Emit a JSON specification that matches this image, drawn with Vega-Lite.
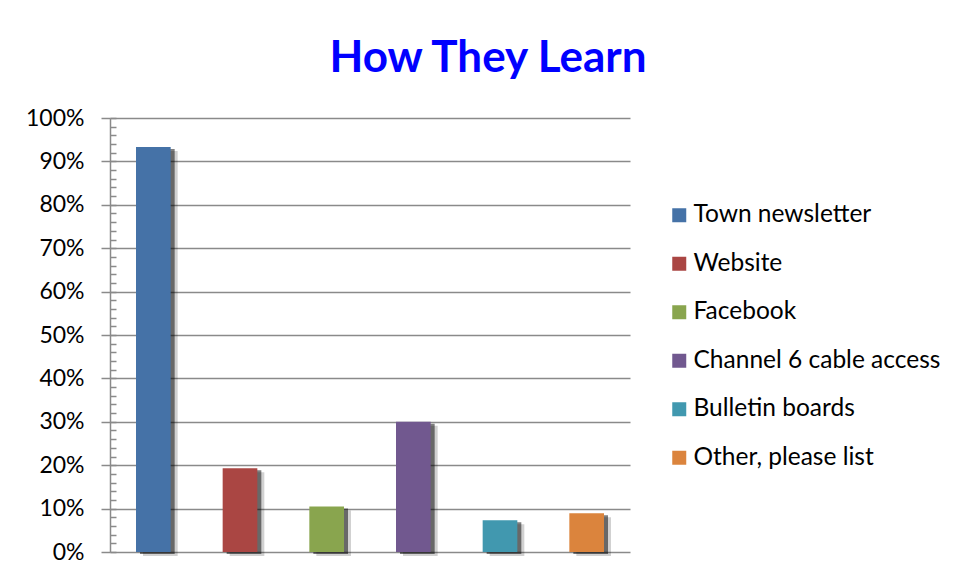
{
  "$schema": "https://vega.github.io/schema/vega-lite/v6.json",
  "width": 520,
  "height": 434,
  "autosize": {"type": "none"},
  "padding": {"left": 110, "top": 118, "right": 330, "bottom": 30},
  "background": "white",
  "title": {
    "text": "How They Learn",
    "font": "Lato",
    "fontSize": 44,
    "fontWeight": "bold",
    "color": "#0000FF",
    "offset": 26,
    "anchor": "middle",
    "dx": 118
  },
  "data": {
    "values": [
      {"source": "Town newsletter", "share": 0.933},
      {"source": "Website", "share": 0.193},
      {"source": "Facebook", "share": 0.105},
      {"source": "Channel 6 cable access", "share": 0.3},
      {"source": "Bulletin boards", "share": 0.073},
      {"source": "Other, please list", "share": 0.089}
    ]
  },
  "encoding": {
    "x": {
      "field": "source",
      "type": "nominal",
      "sort": null,
      "axis": null,
      "scale": {"paddingInner": 0.6, "paddingOuter": 0.3}
    }
  },
  "layer": [
    {
      "mark": {"type": "bar", "color": "#000000", "opacity": 0.18, "xOffset": 7, "yOffset": 4},
      "encoding": {
        "y": {
          "field": "share",
          "type": "quantitative",
          "scale": {"domain": [0, 1]},
          "axis": {
            "orient": "left",
            "title": null,
            "labels": false,
            "domain": false,
            "grid": false,
            "ticks": true,
            "tickSize": -6,
            "tickColor": "#8a8a8a",
            "tickWidth": 1.5,
            "values": [0, 0.02, 0.04, 0.06, 0.08, 0.1, 0.12, 0.14, 0.16, 0.18, 0.2, 0.22, 0.24, 0.26, 0.28, 0.3, 0.32, 0.34, 0.36, 0.38, 0.4, 0.42, 0.44, 0.46, 0.48, 0.5, 0.52, 0.54, 0.56, 0.58, 0.6, 0.62, 0.64, 0.66, 0.68, 0.7, 0.72, 0.74, 0.76, 0.78, 0.8, 0.82, 0.84, 0.86, 0.88, 0.9, 0.92, 0.94, 0.96, 0.98, 1.0]
          }
        }
      }
    },
    {
      "mark": {"type": "bar", "color": "#000000", "opacity": 0.5, "xOffset": 4, "yOffset": 2},
      "encoding": {
        "y": {"field": "share", "type": "quantitative", "axis": null}
      }
    },
    {
      "mark": {"type": "bar"},
      "encoding": {
        "y": {
          "field": "share",
          "type": "quantitative",
          "scale": {"domain": [0, 1]},
          "axis": {
            "orient": "left",
            "title": null,
            "format": ".0%",
            "values": [0, 0.1, 0.2, 0.3, 0.4, 0.5, 0.6, 0.7, 0.8, 0.9, 1.0],
            "labelFont": "Lato",
            "labelFontSize": 23,
            "labelColor": "#000000",
            "labelPadding": 17,
            "domain": true,
            "domainColor": "#8a8a8a",
            "domainWidth": 1.5,
            "tickSize": 9,
            "tickColor": "#8a8a8a",
            "tickWidth": 1.5,
            "grid": true,
            "gridColor": "#8a8a8a",
            "gridWidth": 1.5
          }
        },
        "color": {
          "field": "source",
          "type": "nominal",
          "sort": null,
          "scale": {
            "domain": ["Town newsletter", "Website", "Facebook", "Channel 6 cable access", "Bulletin boards", "Other, please list"],
            "range": ["#4572A7", "#AA4643", "#89A54E", "#71588F", "#4198AF", "#DB843D"]
          },
          "legend": {
            "title": null,
            "orient": "none",
            "legendX": 557,
            "legendY": 85,
            "padding": 0,
            "symbolType": "square",
            "symbolSize": 196,
            "symbolStrokeWidth": 0,
            "labelFont": "Lato",
            "labelFontSize": 24.5,
            "labelLimit": 0,
            "labelColor": "#000000",
            "labelOffset": 2,
            "rowPadding": 23.5
          }
        }
      }
    }
  ],
  "resolve": {"axis": {"y": "independent"}},
  "config": {"view": {"stroke": null}}
}
